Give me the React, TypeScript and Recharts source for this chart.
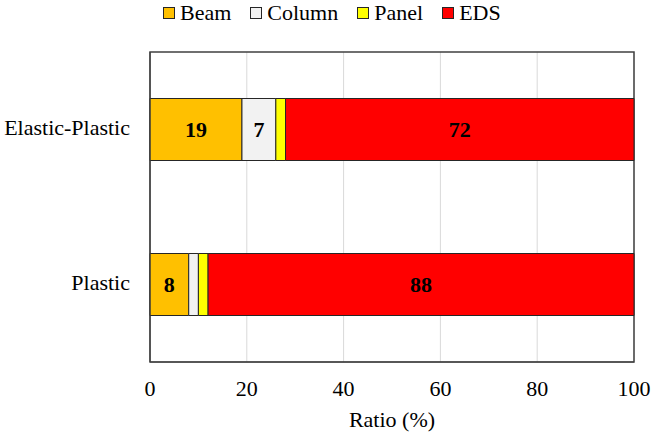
import { Bar, BarChart, CartesianGrid, LabelList, Legend, ReferenceArea, XAxis, YAxis } from "recharts";

const categories = ["Elastic-Plastic", "Plastic"];
const beam = [19, 8];
const column = [7, 2];
const panel = [2, 2];
const eds = [72, 88];
const xTicks = [0, 20, 40, 60, 80, 100];

const series = [
	{ key: "Beam", values: beam, color: "#FFC000" },
	{ key: "Column", values: column, color: "#F2F2F2" },
	{ key: "Panel", values: panel, color: "#FFFF00" },
	{ key: "EDS", values: eds, color: "#FF0000" },
];

const data = categories.map((name, i) => {
	const row: Record<string, string | number> = { name };
	series.forEach((s) => {
		row[s.key] = s.values[i];
	});
	return row;
});

const FONT = '"Liberation Serif", "DejaVu Serif", Times, serif';

const LegendContent = () => (
	<div
		style={{
			display: "flex",
			alignItems: "center",
			paddingLeft: 163,
			height: 26,
			fontFamily: FONT,
			fontSize: 22,
			color: "#000",
		}}
	>
		{series.map((s) => (
			<div key={s.key} style={{ display: "flex", alignItems: "center", marginRight: 19 }}>
				<span
					style={{
						display: "inline-block",
						width: 10,
						height: 10,
						background: s.color,
						border: "1px solid #262626",
						marginRight: 5,
					}}
				/>
				<span style={{ fontFamily: FONT }}>{s.key}</span>
			</div>
		))}
	</div>
);

export default function App() {
	return (
		<div style={{ position: "absolute", left: 0, top: 0, background: "#fff", fontFamily: FONT }}>
			<BarChart
				width={653}
				height={434}
				data={data}
				layout="vertical"
				margin={{ top: 22, right: 19, bottom: 0, left: 0 }}
				barCategoryGap="30%"
			>
				<CartesianGrid horizontal={false} stroke="#d9d9d9" />
				<XAxis
					type="number"
					domain={[0, 100]}
					ticks={xTicks}
					height={72}
					axisLine={{ stroke: "#404040" }}
					tickLine={false}
					tickSize={0}
					tickMargin={18}
					tick={{ fill: "#000", fontSize: 22, fontFamily: FONT }}
					label={{
						value: "Ratio (%)",
						position: "insideBottom",
						offset: 7,
						fill: "#000",
						fontSize: 22,
						fontFamily: FONT,
					}}
				/>
				<YAxis
					type="category"
					dataKey="name"
					width={150}
					axisLine={{ stroke: "#404040" }}
					tickLine={false}
					tickSize={0}
					tickMargin={20}
					tick={{ fill: "#000", fontSize: 22, fontFamily: FONT, dy: -2 }}
				/>
				<Legend
					verticalAlign="top"
					align="left"
					content={<LegendContent />}
					wrapperStyle={{ top: 0, left: 0, width: 653, height: 30 }}
				/>
				{series.map((s) => (
					<Bar
						key={s.key}
						dataKey={s.key}
						stackId="a"
						fill={s.color}
						stroke="#262626"
						strokeWidth={1}
						isAnimationActive={false}
					>
						<LabelList
							dataKey={s.key}
							position="center"
							formatter={(v: unknown) => (Number(v) >= 5 ? String(v) : "")}
							style={{ fill: "#000", fontSize: 22, fontWeight: "bold", fontFamily: FONT }}
						/>
					</Bar>
				))}
				<ReferenceArea x1={0} x2={100} fill="none" stroke="#404040" strokeWidth={1.5} ifOverflow="visible" />
			</BarChart>
		</div>
	);
}
